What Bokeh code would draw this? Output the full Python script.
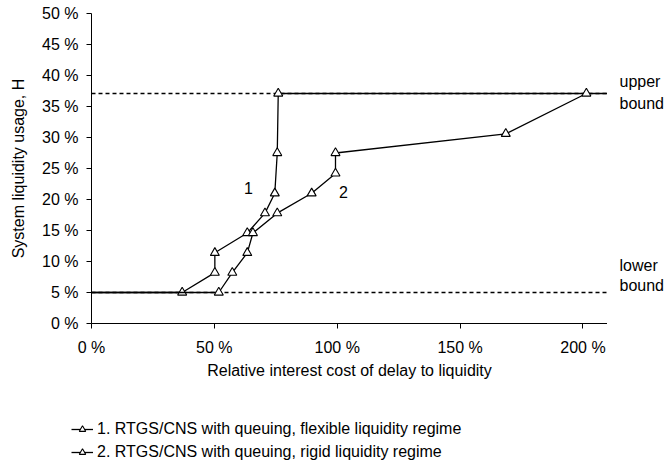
from bokeh.plotting import figure
from bokeh.layouts import column, row
from bokeh.models import Range1d, FixedTicker, Label, Legend, LegendItem
from bokeh.embed import file_html
from bokeh.resources import INLINE

# ---- data ----
s1_name = "1. RTGS/CNS with queuing, flexible liquidity regime"
s1_x = [0, 36.9, 50.2, 50.2, 63.4, 70.6, 74.6, 75.6, 76.0, 210]
s1_y = [5, 5, 8.2, 11.4, 14.6, 17.8, 21.0, 27.5, 37.1, 37.1]

s2_name = "2. RTGS/CNS with queuing, rigid liquidity regime"
s2_x = [0, 51.8, 57.3, 63.4, 65.7, 75.6, 89.6, 99.3, 99.3, 168.6, 201.4]
s2_y = [5, 5, 8.2, 11.4, 14.6, 17.8, 21.0, 24.2, 27.5, 30.6, 37.1]

upper_bound = 37.1
lower_bound = 5
bound_labels = [("upper", 39.0), ("bound", 35.5), ("lower", 9.4), ("bound", 6.2)]
series_labels = [("1", 63.9, 21.8), ("2", 102.5, 21.2)]

x_ticks = [0, 50, 100, 150, 200]
x_tick_labels = ["0 %", "50 %", "100 %", "150 %", "200 %"]
y_ticks = [0, 5, 10, 15, 20, 25, 30, 35, 40, 45, 50]
y_tick_labels = ["0 %", "5 %", "10 %", "15 %", "20 %", "25 %", "30 %", "35 %", "40 %", "45 %", "50 %"]

x_title = "Relative interest cost of delay to liquidity"
y_title = "System liquidity usage, H"

FONT = "Liberation Sans"
FS = "16px"

yr = Range1d(0, 50)
p = figure(width=607, height=385, output_backend="svg", toolbar_location=None,
           x_range=Range1d(0, 210), y_range=yr,
           min_border_left=91, min_border_right=0, min_border_top=13, min_border_bottom=62)
p.outline_line_color = None
p.xgrid.visible = False
p.ygrid.visible = False

for ax, ticks, labels in ((p.xaxis[0], x_ticks, x_tick_labels), (p.yaxis[0], y_ticks, y_tick_labels)):
    ax.ticker = FixedTicker(ticks=ticks)
    ax.major_label_overrides = {t: l for t, l in zip(ticks, labels)}
    ax.minor_tick_line_color = None
    ax.major_tick_in = 0
    ax.major_tick_out = 5
    ax.axis_line_color = "black"
    ax.major_tick_line_color = "black"
    ax.major_label_text_font = FONT
    ax.major_label_text_font_size = FS
    ax.major_label_text_color = "black"
    ax.axis_label_text_font = FONT
    ax.axis_label_text_font_size = FS
    ax.axis_label_text_font_style = "normal"
    ax.axis_label_text_color = "black"

p.xaxis[0].major_label_standoff = 10
p.xaxis[0].axis_label = x_title
p.xaxis[0].axis_label_standoff = 3
p.yaxis[0].major_label_standoff = 8
p.yaxis[0].axis_label = y_title
p.yaxis[0].axis_label_standoff = 12

for lvl in (upper_bound, lower_bound):
    p.line([p.x_range.start, p.x_range.end], [lvl, lvl],
           line_color="black", line_width=1.3, line_dash="4 3")

style_line = dict(line_color="black", line_width=1.3)
style_mark = dict(marker="triangle", size=9, fill_color="white", line_color="black", line_width=1.1)

p.line(s1_x, s1_y, **style_line)
p.scatter(s1_x[1:-1], s1_y[1:-1], **style_mark)
p.line(s2_x, s2_y, **style_line)
p.scatter(s2_x[1:], s2_y[1:], **style_mark)

for txt, x, y in series_labels:
    p.add_layout(Label(x=x, y=y, text=txt, text_font=FONT, text_font_size=FS,
                       text_align="center", text_baseline="middle", text_color="black"))

# right-hand panel for bound labels (shares the y scale)
r = figure(width=62, height=385, output_backend="svg", toolbar_location=None,
           x_range=Range1d(0, 1), y_range=yr,
           min_border_left=0, min_border_right=0, min_border_top=13, min_border_bottom=62)
r.axis.visible = False
r.grid.visible = False
r.outline_line_color = None
for txt, y in bound_labels:
    r.add_layout(Label(x=12, x_units="screen", y=y, text=txt, text_font=FONT, text_font_size=FS,
                       text_align="left", text_baseline="middle", text_color="black"))

# legend panel (series drawn here fall outside its 0..1 y range, so only the legend shows)
lg = figure(width=669, height=86, output_backend="svg", toolbar_location=None,
            x_range=Range1d(0, 1), y_range=Range1d(0, 1),
            min_border_left=0, min_border_right=0, min_border_top=0, min_border_bottom=0)
lg.axis.visible = False
lg.grid.visible = False
lg.outline_line_color = None
gl1 = lg.line(s1_x, s1_y, **style_line)
gm1 = lg.scatter(s1_x[1:-1], s1_y[1:-1], **style_mark)
gl2 = lg.line(s2_x, s2_y, **style_line)
gm2 = lg.scatter(s2_x[1:], s2_y[1:], **style_mark)
legend = Legend(items=[LegendItem(label=s1_name, renderers=[gl1, gm1]),
                       LegendItem(label=s2_name, renderers=[gl2, gm2])],
                location=(71, 9), orientation="vertical",
                label_text_font=FONT, label_text_font_size=FS, label_text_color="black",
                glyph_width=22, glyph_height=16, label_height=20, label_standoff=4,
                spacing=3, padding=0, margin=0,
                border_line_color=None, background_fill_alpha=0)
lg.add_layout(legend)

layout = column(row(p, r, spacing=0), lg, spacing=0)
open("out.html", "w").write(file_html(layout, INLINE))
